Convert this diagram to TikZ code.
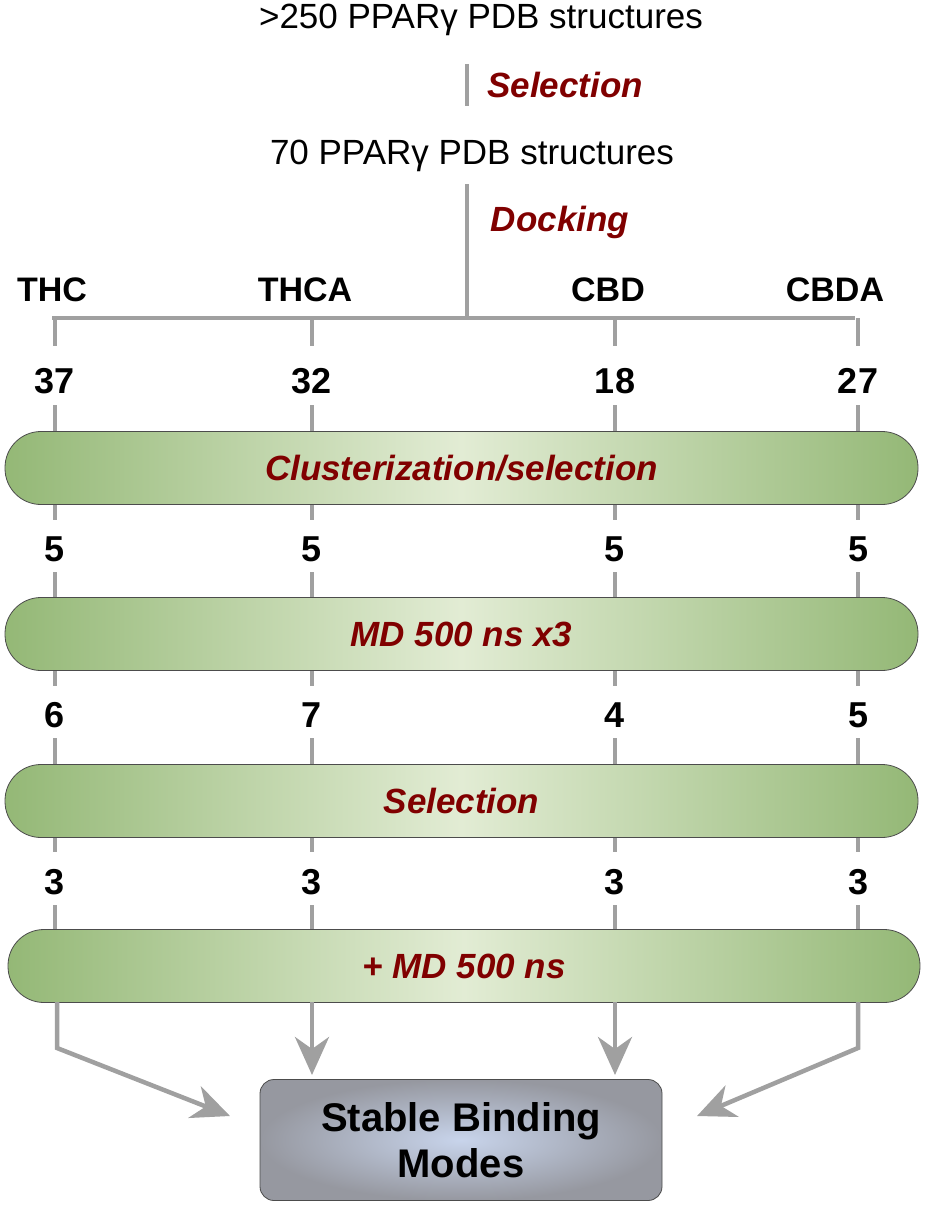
\documentclass[tikz,border=0pt]{standalone}
\usepackage{fontspec}
\setmainfont{Liberation Sans}
\usetikzlibrary{arrows.meta}
\definecolor{gd}{RGB}{148,184,118}
\definecolor{gl}{RGB}{226,236,212}
\definecolor{dred}{RGB}{128,0,0}
\definecolor{ln}{RGB}{160,160,160}
\definecolor{bxd}{RGB}{150,152,160}
\definecolor{bxl}{RGB}{200,212,235}
\begin{document}
\begin{tikzpicture}[x=1pt,y=-1pt,
 bar/.style={draw=black!70,line width=0.8pt,rounded corners=36,left color=gd,right color=gd,middle color=gl,minimum height=73,inner sep=0},
 blab/.style={font=\bfseries\itshape\fontsize{35}{40}\selectfont,text=dred},
 num/.style={font=\bfseries\fontsize{36}{40}\selectfont},
 ttl/.style={font=\fontsize{35}{40}\selectfont},
 gl/.style={draw=ln,line width=4pt},
 arr/.style={draw=ln,line width=4.5pt,-{Stealth[length=38,width=34,inset=12]}}]
\useasboundingbox (0,0) rectangle (925,1207);
\node[ttl,inner sep=0] (t1) at (481,20) {>250 PPARγ PDB structures};
\node[ttl] (t2) at (472,156) {70 PPARγ PDB structures};
\coordinate (s1) at (467,64); \coordinate (s2) at (467,106);
\draw[gl] (s1)--(s2);
\node[blab] at (565,85) {Selection};
\coordinate (d1) at (467,184); \coordinate (d2) at (467,320);
\draw[gl] (d1)--(d2);
\node[blab] at (560,222) {Docking};
\coordinate (hl) at (52,318); \coordinate (hr) at (855,318);
\draw[gl] (hl)--(hr);
\foreach \x/\lab in {52/THC,305/THCA,608/CBD,835/CBDA}{\node[num,font=\bfseries\fontsize{34}{38}\selectfont] at (\x,290) {\lab};}
\foreach \x in {55,312,615,858}{\draw[gl,line width=4.5pt] (\x,318)--(\x,346);}
\foreach \x/\v in {55/37,312/32,615/18,858/27}{\node[num] at (\x,381) {\v};}
\foreach \x/\v in {55/5,312/5,615/5,858/5}{\node[num] at (\x,549) {\v};}
\foreach \x/\v in {55/6,312/7,615/4,858/5}{\node[num] at (\x,715) {\v};}
\foreach \x/\v in {55/3,312/3,615/3,858/3}{\node[num] at (\x,882) {\v};}
\foreach \ya/\yb in {405/520,572/686,738/852,905/960}{\foreach \x in {55,312,615,858}{\draw[gl] (\x,\ya)--(\x,\yb);}}
\node[bar,minimum width=913] (b1) at (461.5,468) {}; \node[blab] at (b1) {Clusterization/selection};
\node[bar,minimum width=913] (b2) at (461.5,634) {}; \node[blab] at (b2) {MD 500 ns x3};
\node[bar,minimum width=913] (b3) at (461.5,801) {}; \node[blab] at (b3) {Selection};
\node[bar,minimum width=912] (b4) at (464,966) {}; \node[blab] at (b4) {+ MD 500 ns};
\node[draw=black!70,line width=0.8pt,rounded corners=14,minimum width=402,minimum height=121,inner color=bxl,outer color=bxd] (box) at (461,1140) {};
\node[font=\bfseries\fontsize{40}{46}\selectfont,align=center] at (box) {Stable Binding\\Modes};
\coordinate (l1) at (57,1002); \coordinate (l2) at (57,1048);
\coordinate (r1) at (858,1002); \coordinate (r2) at (858,1048);
\draw[arr] (l1)--(l2)--(230,1116);
\draw[arr] (r1)--(r2)--(697,1116);
\draw[arr] (312,1002)--(312,1075);
\draw[arr] (615,1002)--(615,1075);
\end{tikzpicture}
\end{document}
